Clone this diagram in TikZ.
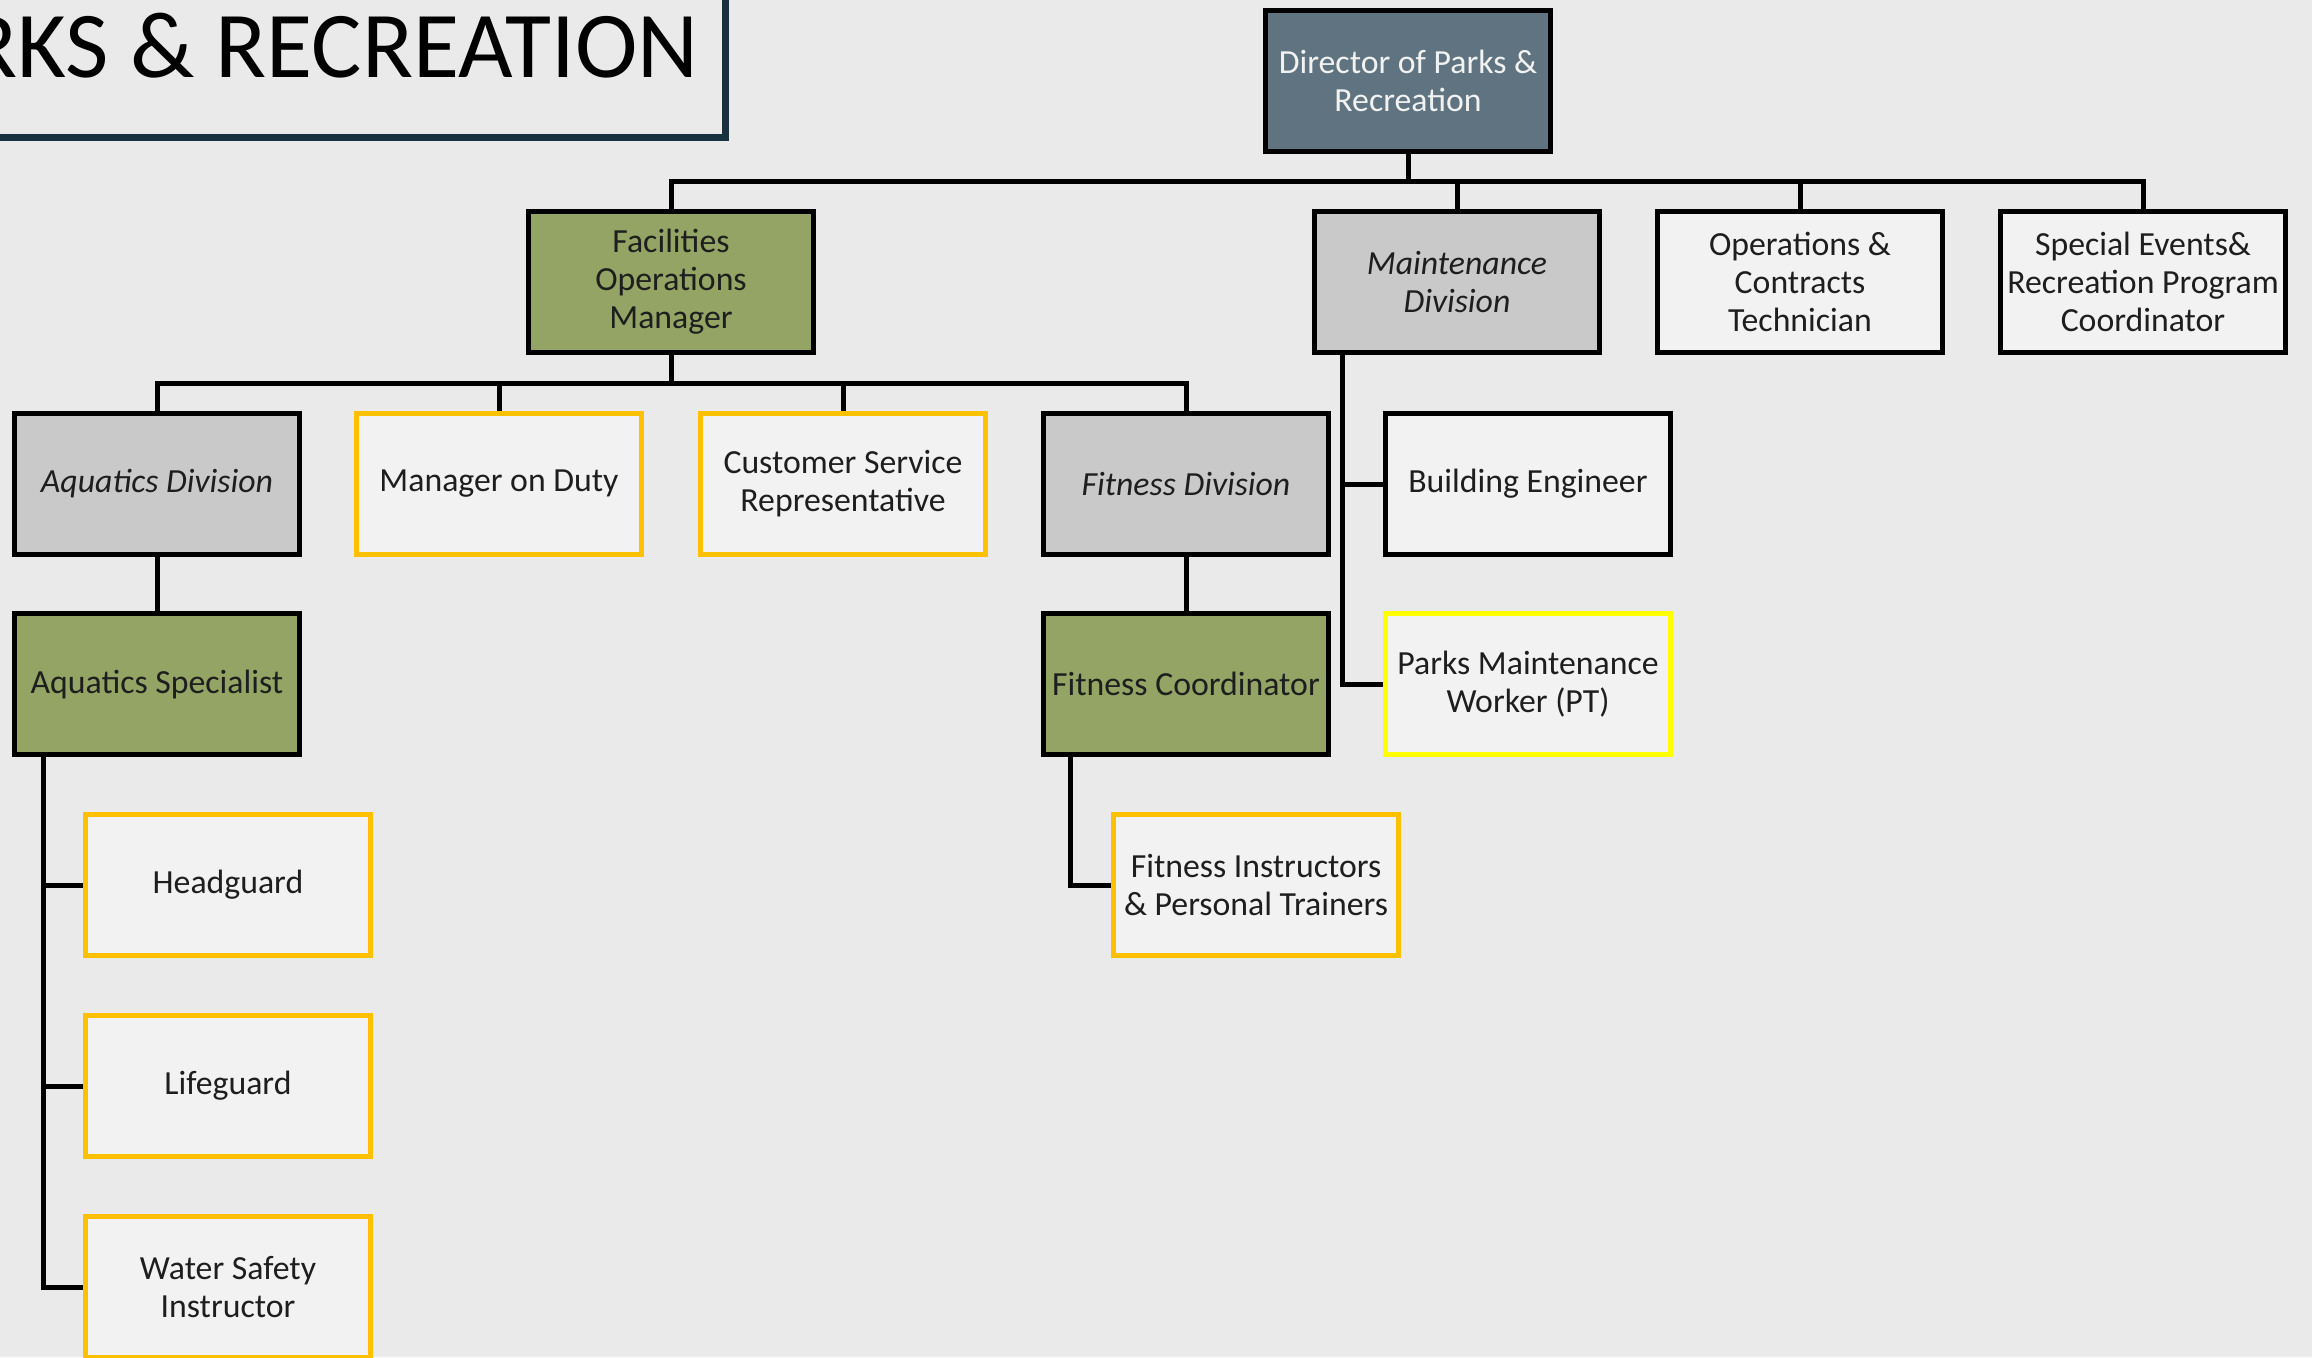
\documentclass[tikz,border=0pt]{standalone}
\usepackage{fontspec}
\setmainfont{Carlito}
\usepackage{tikz}
\usetikzlibrary{calc, positioning}

\definecolor{pagebg}{HTML}{EAEAEA}
\definecolor{titleteal}{HTML}{17313E}
\definecolor{slate}{HTML}{5F7480}
\definecolor{mgrgreen}{HTML}{93A465}
\definecolor{divgray}{HTML}{C9C9C9}
\definecolor{stafffill}{HTML}{F2F2F2}
\definecolor{ptorange}{HTML}{FFC000}
\definecolor{ptyellow}{HTML}{FFFF00}
\definecolor{textdark}{HTML}{1E1E1E}

\tikzset{
  box/.style={draw=black, line width=0.05cm, minimum width=2.84cm, minimum height=1.41cm,
    inner sep=1pt, align=center, text=textdark, font=\fontsize{9.6}{10.8}\selectfont},
  dirbox/.style={box, fill=slate, text=stafffill},
  mgrbox/.style={box, fill=mgrgreen},
  divbox/.style={box, fill=divgray, font=\fontsize{9.6}{10.8}\selectfont\itshape},
  staffbox/.style={box, fill=stafffill},
  ptbox/.style={staffbox, draw=ptorange},
  pmwbox/.style={staffbox, draw=ptyellow},
  link/.style={line width=0.05cm, black},
}

\begin{document}
\begin{tikzpicture}[x=0.01cm, y=-0.01cm]
  \fill[pagebg] (0,0) rectangle (2312,1357);
  \useasboundingbox (0,0) rectangle (2312,1357);

  % title banner, cut by the page edge
  \draw[titleteal, line width=0.07cm, fill=pagebg] (-40,-40) rectangle (725,137);
  \node[anchor=base east, inner sep=0, text=black, font=\fontsize{26.8}{30}\selectfont] (title) at (699,77) {RKS \& RECREATION};

  % boxes
  \node[dirbox] (dir) at (1408,81) {Director of Parks \&\\Recreation};

  \node[mgrbox] (fom) at (671,282) {Facilities\\Operations\\Manager};
  \node[divbox] (maint) at (1457,282) {Maintenance\\Division};
  \node[staffbox] (opstech) at (1800,282) {Operations \&\\Contracts\\Technician};
  \node[staffbox] (spev) at (2143,282) {Special Events\&\\Recreation Program\\Coordinator};

  \node[divbox] (aqdiv) at (157,484) {Aquatics Division};
  \node[ptbox] (mod) at (499,484) {Manager on Duty};
  \node[ptbox] (csr) at (843,484) {Customer Service\\Representative};
  \node[divbox] (fitdiv) at (1186,484) {Fitness Division};
  \node[staffbox] (bldg) at (1528,484) {Building Engineer};

  \node[mgrbox] (aqspec) at (157,684) {Aquatics Specialist};
  \node[mgrbox] (fitco) at (1186,684) {Fitness Coordinator};
  \node[pmwbox] (pmw) at (1528,684) {Parks Maintenance\\Worker (PT)};

  \node[ptbox] (headg) at (228,885) {Headguard};
  \node[ptbox] (fitinst) at (1256,885) {Fitness Instructors\\\& Personal Trainers};
  \node[ptbox] (lifeg) at (228,1086) {Lifeguard};
  \node[ptbox] (wsi) at (228,1287) {Water Safety\\Instructor};

  % connectors
  \foreach \c in {fom,maint,opstech,spev}
    \draw[link] (dir.south) -- ++(0,27) -| (\c.north);
  \foreach \c in {aqdiv,mod,csr,fitdiv}
    \draw[link] (fom.south) -- ++(0,28) -| (\c.north);
  \draw[link] (aqdiv.south) -- (aqspec.north);
  \draw[link] (fitdiv.south) -- (fitco.north);

  \coordinate (mtrunk) at ([xshift=0.3cm]maint.south west);
  \foreach \c in {bldg,pmw}
    \draw[link] (mtrunk) |- (\c.west);
  \coordinate (atrunk) at ([xshift=0.31cm]aqspec.south west);
  \foreach \c in {headg,lifeg,wsi}
    \draw[link] (atrunk) |- (\c.west);
  \coordinate (ftrunk) at ([xshift=0.29cm]fitco.south west);
  \draw[link] (ftrunk) |- (fitinst.west);
\end{tikzpicture}
\end{document}
